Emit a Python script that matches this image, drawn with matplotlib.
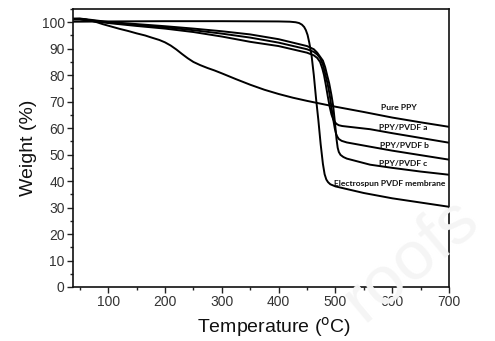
import matplotlib
matplotlib.use("Agg")
import matplotlib.pyplot as plt
from matplotlib.ticker import MultipleLocator

# ---- data ----
T_pvdf = [38, 100, 200, 300, 400, 420, 430, 436, 441, 445, 448, 451, 454, 458, 462, 466, 470, 474, 478, 481, 484, 487, 491, 500, 520, 550, 600, 650, 700]
W_pvdf = [100.2, 100.3, 100.4, 100.4, 100.3, 100.2, 100.0, 99.7, 99.1, 98.2, 97.0, 95.2, 92.3, 87.5, 80.0, 71.0, 63.0, 54.0, 46.5, 42.6, 40.6, 39.6, 38.8, 38.0, 37.0, 35.5, 33.5, 31.9, 30.3]

T_ppy = [38, 50, 60, 70, 80, 90, 105, 120, 135, 150, 165, 175, 190, 200, 210, 220, 230, 240, 250, 262, 275, 287, 300, 325, 350, 375, 400, 425, 450, 500, 550, 600, 650, 700]
W_ppy = [101.2, 101.3, 101.1, 100.6, 100.0, 99.3, 98.4, 97.5, 96.7, 95.8, 95.0, 94.3, 93.3, 92.4, 91.2, 89.7, 88.0, 86.4, 85.0, 83.8, 82.7, 81.8, 80.7, 78.5, 76.4, 74.5, 72.9, 71.5, 70.3, 68.1, 66.1, 64.0, 62.2, 60.5]

T_a = [38, 50, 70, 100, 150, 200, 250, 300, 350, 400, 450, 462, 468, 473, 477, 480, 483, 487, 490, 493, 496, 499, 502, 506, 512, 520, 561, 600, 650, 700]
W_a = [101.0, 101.0, 100.5, 99.7, 98.6, 97.6, 96.3, 94.6, 92.6, 91.0, 88.5, 87.5, 86.5, 85.0, 82.5, 80.0, 76.5, 71.5, 68.0, 65.2, 63.4, 62.3, 61.6, 61.1, 60.8, 60.6, 59.6, 58.1, 56.3, 54.5]

T_b = [38, 50, 70, 100, 150, 200, 250, 300, 350, 400, 450, 462, 468, 473, 478, 482, 486, 490, 493, 496, 499, 501, 503, 506, 511, 520, 561, 600, 650, 700]
W_b = [101.2, 101.2, 100.7, 99.9, 99.0, 98.1, 97.0, 95.7, 94.2, 92.3, 89.8, 88.8, 87.8, 86.5, 84.0, 80.5, 77.0, 72.5, 68.0, 63.5, 59.8, 58.0, 56.9, 55.9, 55.2, 54.6, 53.0, 51.5, 49.8, 48.1]

T_c = [38, 50, 70, 100, 150, 200, 250, 300, 350, 400, 450, 462, 468, 473, 478, 482, 486, 489, 493, 496, 499, 502, 504, 506, 509, 514, 520, 561, 600, 650, 700]
W_c = [101.4, 101.4, 100.9, 100.1, 99.3, 98.5, 97.6, 96.6, 95.4, 93.6, 91.0, 89.8, 88.5, 87.0, 85.5, 83.0, 79.5, 77.0, 72.5, 68.5, 62.5, 55.8, 52.6, 51.0, 49.9, 49.1, 48.5, 46.2, 45.0, 43.6, 42.4]

labels = ["Pure PPY", "PPY/PVDF a", "PPY/PVDF b", "PPY/PVDF c", "Electrospun PVDF membrane"]
label_T = [612, 619, 622, 620, 596]
label_W = [67.7, 60.1, 53.5, 46.8, 39.0]

xticks = [100, 200, 300, 400, 500, 600, 700]
yticks = [0, 10, 20, 30, 40, 50, 60, 70, 80, 90, 100]

# ---- figure ----
fig = plt.figure(figsize=(4.95, 3.41), dpi=100)
ax = fig.add_axes([73/495, 1 - 287/341, (449 - 73)/495, (287 - 9)/341])

# faint watermark
fig.text(0.83, 0.24, "roofs", fontsize=50, color="#f5f5f5", rotation=40,
         ha="center", va="center", family="Liberation Sans", zorder=0)
ax.patch.set_alpha(0)

for T, W in [(T_pvdf, W_pvdf), (T_ppy, W_ppy), (T_a, W_a), (T_b, W_b), (T_c, W_c)]:
    ax.plot(T, W, color="black", lw=1.4, solid_joinstyle="round")

for s, tx, wy in zip(labels, label_T, label_W):
    ax.text(tx, wy, s, fontsize=6.1, fontweight="bold", family="Lato",
            ha="center", va="center", color="#111111")

ax.set_xlim(38, 700)
ax.set_ylim(0, 105)
ax.set_xticks(xticks)
ax.set_yticks(yticks)
ax.xaxis.set_minor_locator(MultipleLocator(50))
ax.yaxis.set_minor_locator(MultipleLocator(5))
ax.tick_params(which="major", direction="out", length=4, width=1, color="#222222",
               labelsize=10, labelcolor="#333333", pad=2)
ax.tick_params(which="minor", direction="out", length=2.5, width=1, color="#222222")
for lab in ax.get_xticklabels() + ax.get_yticklabels():
    lab.set_family("Liberation Sans")
for sp in ax.spines.values():
    sp.set_linewidth(1.2)
    sp.set_color("#111111")

ax.set_xlabel("Temperature ($^{\\rm o}$C)", fontsize=14, family="Liberation Sans",
              color="#111111", labelpad=3)
ax.xaxis.set_label_coords(0.535, -0.1)
ax.set_ylabel("Weight (%)", fontsize=14, family="Liberation Sans",
              color="#111111", labelpad=3)

fig.savefig("out.png", dpi=100)
